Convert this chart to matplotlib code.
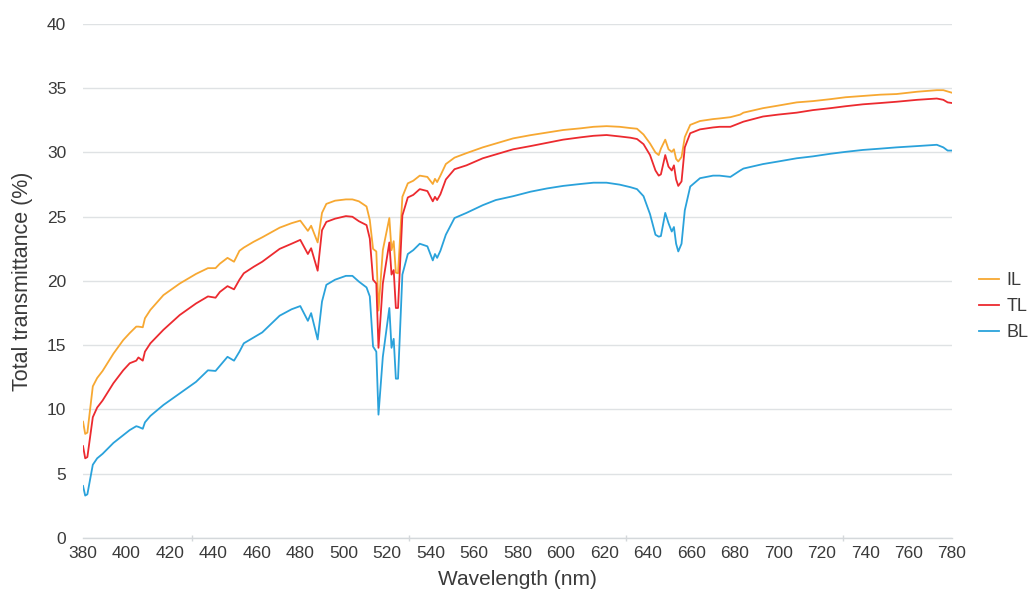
import matplotlib
matplotlib.use("Agg")
import matplotlib.pyplot as plt
from matplotlib.ticker import MultipleLocator, FixedLocator

plt.rcParams['font.family'] = ['Liberation Sans', 'DejaVu Sans']

wavelength = [380, 381, 382, 384.5, 386.5, 389, 394, 398.5, 401.5, 404.5, 405.5, 407.5, 408.5, 411,
              417, 424.5, 432, 437.5, 441, 443, 446.5, 449.5, 452, 454, 458.5, 462.5, 470.5, 476,
              480, 483.5, 485, 488, 490, 492, 496, 501, 504, 507, 510.5, 512, 513.5, 515, 516, 518,
              521, 522, 523, 524, 525, 527, 529.5, 532, 535, 538.5, 541, 542, 543, 544.5, 547, 551,
              556.5, 564, 570, 578, 586, 593.5, 601, 609, 615, 621, 627, 632, 635, 638, 641, 643.5,
              645, 646, 648, 649.5, 651, 652, 653, 654, 655.5, 657, 659.5, 664, 670, 673, 678, 682.5,
              684, 693, 700, 708.5, 716, 724, 731, 739, 747, 754.5, 764, 773, 776, 778, 780]

il = [9.05, 8.1, 8.2, 11.8, 12.45, 13.0, 14.35, 15.4, 15.95, 16.45, 16.45, 16.4, 17.1, 17.75,
      18.9, 19.8, 20.55, 21.0, 21.0, 21.35, 21.8, 21.5, 22.35, 22.6, 23.05, 23.4, 24.15, 24.5,
      24.7, 23.9, 24.3, 23.0, 25.3, 26.0, 26.25, 26.35, 26.35, 26.2, 25.8, 24.75, 22.5, 22.3, 17.7, 22.4,
      24.9, 22.4, 23.1, 20.65, 20.6, 26.55, 27.6, 27.8, 28.2, 28.1, 27.55, 27.95, 27.7, 28.2, 29.1, 29.6,
      29.95, 30.4, 30.7, 31.1, 31.35, 31.55, 31.75, 31.88, 32.0, 32.05, 32.0, 31.9, 31.85, 31.4, 30.7, 30.0,
      29.8, 30.3, 31.0, 30.25, 30.05, 30.25, 29.5, 29.3, 29.65, 31.2, 32.15, 32.45, 32.6, 32.65, 32.75, 32.95,
      33.1, 33.45, 33.65, 33.9, 34.0, 34.15, 34.3, 34.4, 34.5, 34.55, 34.73, 34.85, 34.85, 34.75, 34.65]

tl = [7.15, 6.2, 6.3, 9.4, 10.15, 10.7, 12.05, 13.05, 13.6, 13.8, 14.05, 13.8, 14.5, 15.15,
      16.2, 17.35, 18.25, 18.8, 18.7, 19.15, 19.6, 19.35, 20.1, 20.6, 21.1, 21.5, 22.5, 22.9,
      23.2, 22.1, 22.55, 20.8, 23.95, 24.6, 24.85, 25.05, 25.0, 24.65, 24.35, 23.3, 20.1, 19.8, 14.8, 19.8,
      23.0, 20.5, 20.85, 17.9, 17.9, 25.1, 26.5, 26.7, 27.15, 27.0, 26.2, 26.55, 26.3, 26.75, 27.9, 28.7,
      29.0, 29.55, 29.85, 30.25, 30.5, 30.75, 31.0, 31.18, 31.3, 31.36, 31.25, 31.15, 31.05, 30.65, 29.8, 28.6,
      28.2, 28.3, 29.8, 28.9, 28.6, 29.0, 27.9, 27.4, 27.75, 30.4, 31.5, 31.8, 31.95, 32.0, 32.0, 32.3,
      32.4, 32.8, 32.95, 33.1, 33.3, 33.45, 33.6, 33.75, 33.85, 33.95, 34.1, 34.2, 34.1, 33.9, 33.85]

bl = [4.05, 3.3, 3.4, 5.7, 6.2, 6.55, 7.4, 8.0, 8.4, 8.7, 8.65, 8.5, 9.0, 9.5,
      10.35, 11.25, 12.15, 13.05, 13.0, 13.4, 14.1, 13.8, 14.5, 15.15, 15.6, 16.0, 17.3, 17.8,
      18.05, 16.9, 17.5, 15.45, 18.4, 19.7, 20.1, 20.4, 20.4, 19.95, 19.5, 18.8, 14.9, 14.5, 9.6, 14.1,
      17.9, 14.8, 15.5, 12.4, 12.4, 20.5, 22.1, 22.4, 22.9, 22.7, 21.6, 22.1, 21.8, 22.35, 23.6, 24.9,
      25.3, 25.9, 26.3, 26.6, 26.95, 27.2, 27.4, 27.55, 27.65, 27.65, 27.5, 27.3, 27.15, 26.6, 25.2, 23.6,
      23.45, 23.5, 25.3, 24.5, 23.85, 24.2, 22.9, 22.3, 22.9, 25.5, 27.35, 28.0, 28.2, 28.2, 28.1, 28.6,
      28.75, 29.1, 29.3, 29.55, 29.7, 29.9, 30.05, 30.2, 30.3, 30.4, 30.5, 30.6, 30.4, 30.15, 30.15]

series_names = ['IL', 'TL', 'BL']
series_colors = ['#F7A832', '#EC2A2F', '#2AA2DB']

fig = plt.figure(figsize=(10.34, 6.03), dpi=100)
ax = fig.add_axes([0.0803, 0.1078, 0.8404, 0.8524])

for vals, name, col in zip([il, tl, bl], series_names, series_colors):
    ax.plot(wavelength, vals, color=col, lw=1.3, label=name)

ax.set_xlim(380, 780)
ax.set_ylim(0, 40)
ax.xaxis.set_major_locator(MultipleLocator(20))
ax.xaxis.set_minor_locator(FixedLocator(list(range(380, 781, 50))))
ax.yaxis.set_major_locator(MultipleLocator(5))

text_color = '#3a3a3a'
ax.tick_params(axis='x', which='major', length=0, labelsize=12.5, colors=text_color, pad=6)
ax.tick_params(axis='x', which='minor', length=5, width=1, color='#d4d8db', direction='inout')
ax.tick_params(axis='y', which='major', length=0, labelsize=12.5, colors=text_color, pad=12)

ax.grid(axis='y', color='#dfe2e4', lw=1)
ax.set_axisbelow(True)
for s in ['top', 'right', 'left']:
    ax.spines[s].set_visible(False)
ax.spines['bottom'].set_color('#d4d8db')
ax.spines['bottom'].set_linewidth(1)

ax.set_xlabel('Wavelength (nm)', fontsize=15, color=text_color, labelpad=6)
ax.set_ylabel('Total transmittance (%)', fontsize=15.5, color=text_color, labelpad=10)

fig.legend(loc='center left', bbox_to_anchor=(0.933, 0.491), frameon=False,
           fontsize=13, handlelength=1.1, handletextpad=0.4, labelspacing=0.5,
           borderpad=0.3, labelcolor=text_color)

fig.savefig('out.png', dpi=100)
